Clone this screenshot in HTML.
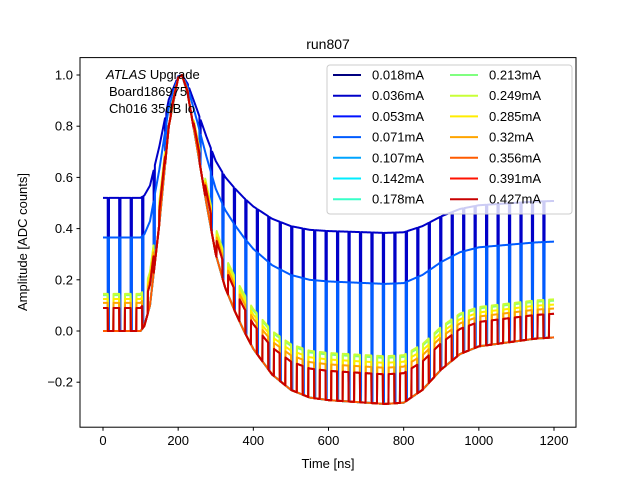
<!DOCTYPE html>
<html><head><meta charset="utf-8"><style>
body{margin:0;background:#fff}
svg text{font-family:"Liberation Sans",sans-serif;}
</style></head><body>
<svg id="chart" width="640" height="480" xmlns="http://www.w3.org/2000/svg">
<rect width="640" height="480" fill="#fff"/>
<g id="plot"></g>
<rect x="80" y="57.6" width="496" height="369.6" fill="none" stroke="#000" stroke-width="1"/>
<g id="axes"></g>
<text x="328" y="49" font-size="14" text-anchor="middle">run807</text>
<text x="328" y="468" font-size="13" text-anchor="middle">Time [ns]</text>
<text transform="translate(27,242) rotate(-90)" font-size="13" text-anchor="middle">Amplitude [ADC counts]</text>
<text x="106" y="79" font-size="13"><tspan font-style="italic">ATLAS</tspan> Upgrade</text>
<text x="109" y="96" font-size="13">Board186975</text>
<text x="109" y="113" font-size="13">Ch016 35dB lo</text>
<g id="legend"></g>
</svg>
<script>
const times=[0,50,100,110,125,150,175,200,210,225,250,275,300,325,350,375,400,450,500,550,600,650,700,750,800,850,900,950,1000,1050,1100,1150,1200];
const baseShape=[0,0,0,0.02,0.1,0.42,0.8,0.99,1.0,0.93,0.72,0.5,0.3,0.17,0.08,0.0,-0.07,-0.17,-0.23,-0.26,-0.27,-0.275,-0.28,-0.285,-0.28,-0.23,-0.15,-0.09,-0.06,-0.05,-0.04,-0.03,-0.025];
const labels=["0.018mA","0.036mA","0.053mA","0.071mA","0.107mA","0.142mA","0.178mA","0.213mA","0.249mA","0.285mA","0.32mA","0.356mA","0.391mA","0.427mA"];
const offsets=[0,0.52,0,0.365,0,0,0,0.14,0.145,0.125,0.11,0,0.09,0.09];
const dipWidths=[0,3,0,3,0,0,0,15,15,15,15,0,15,15];
const xTicks=[0,200,400,600,800,1000,1200];
const yTicks=[-0.2,0,0.2,0.4,0.6,0.8,1.0];
const NS="http://www.w3.org/2000/svg";
const X=t=>103+t*(451/1200);
const Y=v=>331-v*256;
function jet(x){const c=v=>Math.round(255*Math.max(0,Math.min(1,v)));return `rgb(${c(1.5-Math.abs(4*x-3))},${c(1.5-Math.abs(4*x-2))},${c(1.5-Math.abs(4*x-1))})`;}
function B(t){for(let i=0;i<times.length-1;i++){if(t<=times[i+1]){const f=(t-times[i])/(times[i+1]-times[i]);return baseShape[i]+f*(baseShape[i+1]-baseShape[i]);}}return baseShape[baseShape.length-1];}
const plot=document.getElementById('plot');
labels.forEach((lab,i)=>{
  const col=jet(i/14);
  let d="";
  for(let t=0;t<=1200;t+=0.5){
    const b=B(t);let v=b+offsets[i]*(1-b);
    if(offsets[i]>0){const ph=(((t-13)%30.5)+30.5)%30.5;if(ph<dipWidths[i])v=b;}
    d+=(t===0?"M":"L")+X(t).toFixed(2)+","+Y(v).toFixed(2);
  }
  const p=document.createElementNS(NS,'path');
  p.setAttribute('d',d);p.setAttribute('fill','none');p.setAttribute('stroke',col);p.setAttribute('stroke-width','2');p.setAttribute('stroke-linejoin','round');
  
  
  plot.appendChild(p);
});
const axes=document.getElementById('axes');
xTicks.forEach(t=>{
  const l=document.createElementNS(NS,'line');
  l.setAttribute('x1',X(t));l.setAttribute('x2',X(t));l.setAttribute('y1',427.2);l.setAttribute('y2',430.7);l.setAttribute('stroke','#000');
  
  
  axes.appendChild(l);
  const tx=document.createElementNS(NS,'text');
  tx.setAttribute('x',X(t));tx.setAttribute('y',445);tx.setAttribute('font-size','13');tx.setAttribute('text-anchor','middle');tx.textContent=t;
  
  
  axes.appendChild(tx);
});
yTicks.forEach(v=>{
  const l=document.createElementNS(NS,'line');
  l.setAttribute('x1',76.5);l.setAttribute('x2',80);l.setAttribute('y1',Y(v));l.setAttribute('y2',Y(v));l.setAttribute('stroke','#000');
  
  
  axes.appendChild(l);
  const tx=document.createElementNS(NS,'text');
  tx.setAttribute('x',73);tx.setAttribute('y',Y(v)+4.5);tx.setAttribute('font-size','13');tx.setAttribute('text-anchor','end');
  tx.textContent=(v<0?"\u2212":"")+Math.abs(v).toFixed(1);
  
  
  axes.appendChild(tx);
});
const lg=document.getElementById('legend');
const box=document.createElementNS(NS,'rect');
box.setAttribute('x',327);box.setAttribute('y',65);box.setAttribute('width',245);box.setAttribute('height',149);box.setAttribute('rx',3);
box.setAttribute('fill','rgba(255,255,255,0.8)');box.setAttribute('stroke','#ccc');


lg.appendChild(box);
labels.forEach((lab,i)=>{
  const c=Math.floor(i/7),r=i%7;
  const x0=c?450:333,y0=75+r*20.7;
  const g=document.createElementNS(NS,'g');
  
  
  const l=document.createElementNS(NS,'line');
  l.setAttribute('x1',x0);l.setAttribute('x2',x0+28);l.setAttribute('y1',y0);l.setAttribute('y2',y0);l.setAttribute('stroke',jet(i/14));l.setAttribute('stroke-width','2');
  g.appendChild(l);
  const tx=document.createElementNS(NS,'text');
  tx.setAttribute('x',x0+39);tx.setAttribute('y',y0+4.5);tx.setAttribute('font-size','13');tx.textContent=lab;
  g.appendChild(tx);
  lg.appendChild(g);
});
</script>
</body></html>
